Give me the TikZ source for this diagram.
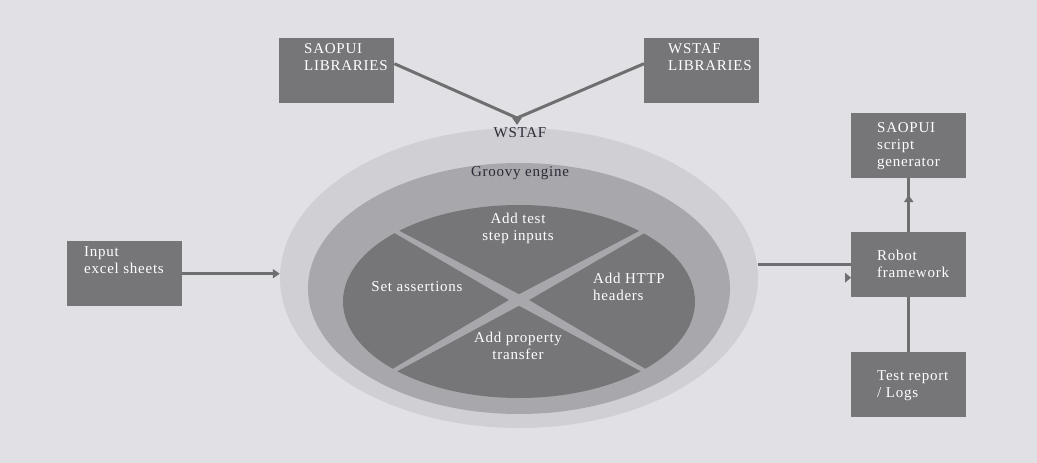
\documentclass[tikz,border=0pt]{standalone}
\usepackage{fontspec}
\setmainfont{Liberation Serif}[LetterSpace=5]
\usetikzlibrary{shapes.geometric,arrows.meta,calc}
\definecolor{bgc}{HTML}{E1E0E4}
\definecolor{outc}{HTML}{D0CFD3}
\definecolor{midc}{HTML}{A8A7AB}
\definecolor{inc}{HTML}{767578}
\definecolor{boxc}{HTML}{767578}
\definecolor{linec}{HTML}{6F6E71}
\definecolor{darktext}{HTML}{2A2A38}
\begin{document}
\begin{tikzpicture}[x=1pt,y=-1pt,
  box/.style={fill=boxc, minimum width=115pt, minimum height=65pt, inner sep=0pt, anchor=north west},
  btext/.style={text=white, font=\fontsize{15}{17}\selectfont, align=left, anchor=north west, inner sep=0pt},
  ctext/.style={text=white, font=\fontsize{15}{17}\selectfont, align=center, inner sep=0pt},
  dtext/.style={text=darktext, font=\fontsize{15}{17}\selectfont, inner sep=0pt},
  ring/.style={ellipse, inner sep=0pt},
  conn/.style={draw=linec, line width=3pt},
  arr/.style={conn, -{Triangle[length=7pt,width=9pt]}}]
\fill[bgc] (0,0) rectangle (1037,463);
\useasboundingbox (0,0) rectangle (1037,463);
% rings
\node[ring, fill=outc, minimum width=478pt, minimum height=300pt] (wstaf) at (519,278) {};
\node[ring, fill=midc, minimum width=422pt, minimum height=251pt] (groovy) at (519,288.5) {};
\node[ring, fill=inc, minimum width=352pt, minimum height=193pt] (core) at (519,301.5) {};
% cross
\coordinate (c) at (519,300);
\coordinate (e1) at (397,232);
\coordinate (e2) at (642,232);
\coordinate (e3) at (395,370);
\coordinate (e4) at (643,370);
\foreach \e in {e1,e2,e3,e4}{
  \fill[midc] ($(c)!5pt!90:(\e)$) -- ($($(c)!1.04!(\e)$)!2pt!-90:(c)$) -- ($($(c)!1.04!(\e)$)!2pt!90:(c)$) -- ($(c)!5pt!-90:(\e)$) -- cycle;
}
% ring labels
\node[dtext] (lw) at (520,133) {WSTAF};
\node[dtext] (lg) at (520,173) {Groovy engine};
\node[ctext] (s1) at (518,228) {Add test\\step inputs};
\node[ctext] (s2) at (417,287) {Set assertions};
\node[btext, anchor=west] (s3) at (593,287) {Add HTTP\\headers};
\node[ctext] (s4) at (518,346) {Add property\\transfer};
% boxes
\node[box] (saolib) at (279,38) {};
\node[box] (wslib) at (644,38) {};
\node[box] (input) at (67,241) {};
\node[box] (gen) at (851,113) {};
\node[box] (robot) at (851,232) {};
\node[box] (report) at (851,352) {};
\node[btext] (t1) at (304,43) {SAOPUI\\LIBRARIES};
\node[btext] (t2) at (668,43) {WSTAF\\LIBRARIES};
\node[btext] (t3) at (84,246) {Input\\excel sheets};
\node[btext] (t4) at (877,122) {SAOPUI\\script\\generator};
\node[btext] (t5) at (877,250) {Robot\\framework};
\node[btext] (t6) at (877,370) {Test report\\/ Logs};
% connectors
\coordinate (join) at (517,118);
\draw[conn] ([yshift=7pt]saolib.east) -- (join);
\draw[conn] ([yshift=7pt]wslib.west) -- (join);
\draw[arr] (join) -- ++(0,7);
\draw[arr] (input.east) -- (input.east -| wstaf.west);
\draw[conn] (robot.west -| wstaf.east) -- (robot.west);
\fill[linec] ([yshift=-13pt]robot.west) -- ++(-6,-5) -- ++(0,10) -- cycle;
\draw[conn] (robot.north) -- (gen.south);
\draw[arr] (robot.north) -- ++(0,-37);
\draw[conn] (report.north) -- (robot.south);
\end{tikzpicture}
\end{document}
